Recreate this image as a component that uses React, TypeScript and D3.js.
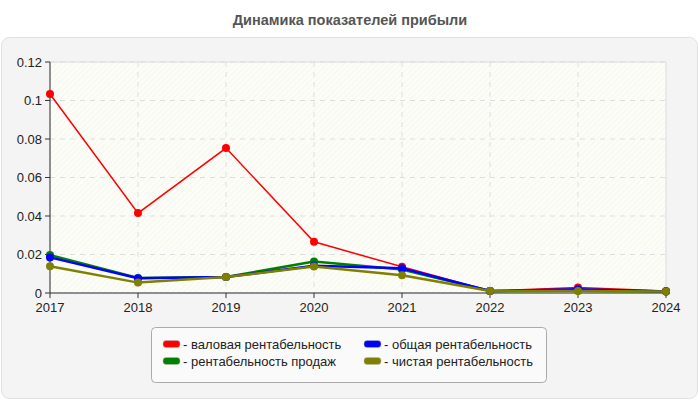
import React from "react";
import * as d3 from "d3";

const years = [2017, 2018, 2019, 2020, 2021, 2022, 2023, 2024];
const grossMargin = [0.1034, 0.0415, 0.0753, 0.0266, 0.0136, 0.001, 0.0028, 0.001];
const salesMargin = [0.0197, 0.0078, 0.0083, 0.0163, 0.0122, 0.001, 0.0012, 0.0008];
const totalMargin = [0.0185, 0.0077, 0.0083, 0.0141, 0.0128, 0.001, 0.0019, 0.0008];
const netMargin = [0.0139, 0.0054, 0.0083, 0.0138, 0.0092, 0.001, 0.001, 0.0008];
const yTicks = [0, 0.02, 0.04, 0.06, 0.08, 0.1, 0.12];
const title = "Динамика показателей прибыли";

const series = [
  { name: "валовая рентабельность", values: grossMargin, color: "#ff0000", width: 1.5 },
  { name: "рентабельность продаж", values: salesMargin, color: "#008000", width: 2.5 },
  { name: "общая рентабельность", values: totalMargin, color: "#0000ff", width: 2.5 },
  { name: "чистая рентабельность", values: netMargin, color: "#808000", width: 2.5 },
];

const legendOrder = [
  [0, 2],
  [1, 3],
];

export default function App() {
  const W = 700, H = 400;
  const left = 50, right = 666, top = 62, bottom = 293;
  const x = d3.scaleLinear().domain([2017, 2024]).range([left, right]);
  const y = d3.scaleLinear().domain([0, 0.12]).range([bottom, top]);
  const line = d3
    .line<number>()
    .x((_, i) => x(years[i]))
    .y((d) => y(d));
  const font = "'Liberation Sans', Arial, sans-serif";
  const fmt = (v: number) => String(+v.toFixed(2));

  return (
    <div style={{ position: "fixed", left: 0, top: 0, width: W, height: H, background: "#fff" }}>
      <svg width={W} height={H} style={{ display: "block" }} fontFamily={font}>
        <defs>
          <pattern id="hatch" width="4" height="4" patternUnits="userSpaceOnUse" patternTransform="rotate(45)">
            <rect width="4" height="4" fill="#fdfdf8" />
            <line x1="0" y1="0" x2="0" y2="4" stroke="#f1f1ea" strokeWidth="1" />
          </pattern>
        </defs>
        <text x={350} y={25} textAnchor="middle" fontSize={14.5} fontWeight="bold" fill="#555">
          {title}
        </text>
        <rect x={1.5} y={37.5} width={696} height={361} rx={8} fill="#f4f4f4" stroke="#e0e0e0" />
        <rect x={left} y={top} width={right - left} height={bottom - top} fill="url(#hatch)" stroke="#dcdcdc" />
        {yTicks.slice(1).map((t) => (
          <line key={"gy" + t} x1={left} x2={right} y1={y(t)} y2={y(t)} stroke="#dddddd" strokeDasharray="5,5" />
        ))}
        {years.slice(1, -1).map((yr) => (
          <line key={"gx" + yr} x1={x(yr)} x2={x(yr)} y1={top} y2={bottom} stroke="#dddddd" strokeDasharray="5,5" />
        ))}
        <line x1={left} x2={left} y1={top} y2={bottom} stroke="#333" />
        <line x1={left} x2={right} y1={bottom} y2={bottom} stroke="#333" />
        {yTicks.map((t) => (
          <g key={"ty" + t}>
            <line x1={left - 5} x2={left} y1={y(t)} y2={y(t)} stroke="#333" />
            <text x={left - 8} y={y(t) + 4.5} textAnchor="end" fontSize={13} fill="#222">
              {fmt(t)}
            </text>
          </g>
        ))}
        {years.map((yr) => (
          <g key={"tx" + yr}>
            <line x1={x(yr)} x2={x(yr)} y1={bottom} y2={bottom + 5} stroke="#333" />
            <text x={x(yr)} y={bottom + 19} textAnchor="middle" fontSize={13} fill="#222">
              {yr}
            </text>
          </g>
        ))}
        {series.map((s) => (
          <g key={s.name}>
            <path d={line(s.values) || ""} fill="none" stroke={s.color} strokeWidth={s.width} />
            {s.values.map((v, i) => (
              <circle key={i} cx={x(years[i])} cy={y(v)} r={4} fill={s.color} />
            ))}
          </g>
        ))}
        <rect x={151.5} y={327.5} width={395} height={55} rx={4} fill="#fafafa" stroke="#aaaaaa" />
        {legendOrder.map((row, ri) =>
          row.map((si, ci) => {
            const s = series[si];
            const lx = ci === 0 ? 163 : 364;
            const ly = 344 + ri * 17;
            return (
              <g key={s.name}>
                <rect x={lx} y={ly - 3.5} width={17} height={7} rx={3} fill={s.color} stroke="#bbb" strokeWidth={0.5} />
                <text x={lx + 20} y={ly + 4.5} fontSize={13} fill="#222">
                  {"- " + s.name}
                </text>
              </g>
            );
          })
        )}
      </svg>
    </div>
  );
}
